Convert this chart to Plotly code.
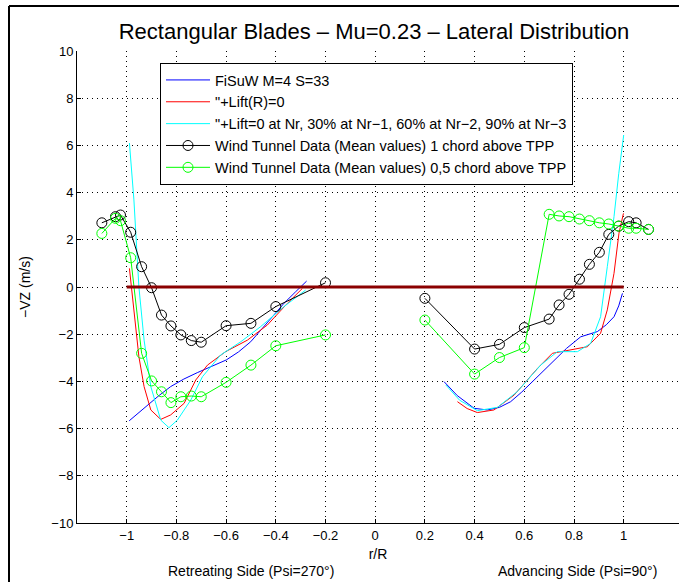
import plotly.graph_objects as go

# ---------------- data ----------------
fisuw_left_x = [-0.99, -0.95, -0.917, -0.87, -0.823, -0.77, -0.716, -0.65, -0.599, -0.55, -0.501, -0.454, -0.41, -0.367, -0.32, -0.276]
fisuw_left_y = [-5.67, -5.3, -5.0, -4.6, -4.22, -3.9, -3.63, -3.33, -3.09, -2.75, -2.32, -1.75, -1.2, -0.69, -0.2, 0.25]
fisuw_right_x = [0.277, 0.33, 0.398, 0.451, 0.5, 0.545, 0.59, 0.639, 0.68, 0.72, 0.77, 0.827, 0.894, 0.93, 0.961, 0.98, 0.995]
fisuw_right_y = [-4.01, -4.6, -5.14, -5.21, -5.1, -4.86, -4.45, -3.94, -3.5, -3.09, -2.6, -2.11, -1.89, -1.6, -1.26, -0.8, -0.27]

lift0_left_x = [-0.989, -0.971, -0.951, -0.93, -0.903, -0.863, -0.823, -0.769, -0.722, -0.675, -0.602, -0.514, -0.434, -0.353, -0.293]
lift0_left_y = [0.79, -0.97, -2.95, -4.22, -5.21, -5.61, -5.42, -4.93, -3.94, -3.31, -2.74, -2.25, -1.61, -0.69, -0.06]
lift0_right_x = [0.331, 0.37, 0.411, 0.478, 0.559, 0.653, 0.713, 0.787, 0.854, 0.907, 0.934, 0.961, 0.981, 0.999]
lift0_right_y = [-4.86, -5.15, -5.32, -5.21, -4.58, -3.45, -2.81, -2.67, -2.53, -1.96, -0.97, 0.58, 2.28, 3.12]

liftg_left_x = [-0.989, -0.971, -0.951, -0.93, -0.903, -0.863, -0.83, -0.796, -0.742, -0.695, -0.622, -0.541, -0.461, -0.367, -0.28]
liftg_left_y = [6.1, 3.69, 0.01, -2.25, -4.22, -5.64, -5.96, -5.64, -4.79, -3.8, -2.88, -2.32, -1.68, -0.83, -0.13]
liftg_right_x = [0.284, 0.34, 0.411, 0.492, 0.572, 0.666, 0.733, 0.814, 0.867, 0.907, 0.934, 0.961, 0.98, 1.0]
liftg_right_y = [-4.15, -4.8, -5.24, -5.1, -4.43, -3.31, -2.74, -2.74, -2.39, -1.26, 0.86, 2.98, 4.8, 6.44]

wt_left_x = [-1.1, -1.045, -1.025, -0.984, -0.94, -0.9, -0.86, -0.822, -0.782, -0.74, -0.7, -0.6, -0.5, -0.4, -0.2]
wt_right_x = [0.2, 0.4, 0.5, 0.6, 0.7, 0.74, 0.78, 0.822, 0.862, 0.902, 0.94, 0.98, 1.02, 1.05, 1.1]

wt1_left_y = [2.72, 2.98, 3.05, 2.32, 0.86, -0.03, -1.19, -1.65, -2.03, -2.27, -2.34, -1.64, -1.54, -0.83, 0.18]
wt1_right_y = [-0.48, -2.63, -2.43, -1.72, -1.36, -0.76, -0.31, 0.33, 0.96, 1.47, 2.23, 2.58, 2.77, 2.72, 2.44]

wt05_left_y = [2.27, 2.91, 2.81, 1.24, -2.81, -3.98, -4.44, -4.9, -4.65, -4.62, -4.65, -4.04, -3.31, -2.49, -2.03]
wt05_right_y = [-1.4, -3.69, -2.99, -2.57, 3.08, 3.01, 2.98, 2.88, 2.81, 2.72, 2.67, 2.58, 2.49, 2.49, 2.44]

zero_x = [-1, 1]
zero_y = [0, 0]

x_ticks = [-1, -0.8, -0.6, -0.4, -0.2, 0, 0.2, 0.4, 0.6, 0.8, 1]
y_ticks = [-10, -8, -6, -4, -2, 0, 2, 4, 6, 8, 10]

names = ["FiSuW M=4 S=33",
         "\"+Lift(R)=0",
         "\"+Lift=0 at Nr, 30% at Nr\u22121, 60% at Nr\u22122, 90% at Nr\u22123",
         "Wind Tunnel Data (Mean values) 1 chord above TPP",
         "Wind Tunnel Data (Mean values) 0,5 chord above TPP"]


def join(a, b):
    return list(a) + [None] + list(b)


FONT = "Liberation Sans, Arial, sans-serif"
fig = go.Figure()

fig.add_trace(go.Scatter(x=join(fisuw_left_x, fisuw_right_x), y=join(fisuw_left_y, fisuw_right_y),
                         mode="lines", line=dict(color="#0000ff", width=1), name=names[0]))
fig.add_trace(go.Scatter(x=join(lift0_left_x, lift0_right_x), y=join(lift0_left_y, lift0_right_y),
                         mode="lines", line=dict(color="#ff0000", width=1), name=names[1]))
fig.add_trace(go.Scatter(x=join(liftg_left_x, liftg_right_x), y=join(liftg_left_y, liftg_right_y),
                         mode="lines", line=dict(color="#00ffff", width=1), name=names[2]))
fig.add_trace(go.Scatter(x=join(wt_left_x, wt_right_x), y=join(wt1_left_y, wt1_right_y),
                         mode="lines+markers", line=dict(color="#000000", width=1),
                         marker=dict(symbol="circle-open", size=10, color="#000000", line=dict(width=1)),
                         name=names[3]))
fig.add_trace(go.Scatter(x=join(wt_left_x, wt_right_x), y=join(wt05_left_y, wt05_right_y),
                         mode="lines+markers", line=dict(color="#00ff00", width=1),
                         marker=dict(symbol="circle-open", size=10, color="#00ff00", line=dict(width=1)),
                         name=names[4]))
fig.add_trace(go.Scatter(x=zero_x, y=zero_y, mode="lines", line=dict(color="#8b0000", width=3),
                         showlegend=False, hoverinfo="skip"))

W, H = 679, 582
L, R, T, B = 77, 0, 51, 59
pw, ph = W - L - R, H - T - B


def px(xp):
    return (xp - L) / pw


def py(yp):
    return 1 - (yp - T) / ph


fig.update_layout(
    width=W, height=H,
    margin=dict(l=L, r=R, t=T, b=B),
    paper_bgcolor="white", plot_bgcolor="white",
    font=dict(family=FONT, size=13, color="black"),
    title=dict(text="Rectangular Blades \u2013 Mu=0.23 \u2013 Lateral Distribution",
               x=374 / W, xanchor="center", y=1 - 31 / H, yanchor="middle",
               font=dict(size=22, family=FONT)),
    showlegend=True,
    legend=dict(x=px(160), y=py(63), xanchor="left", yanchor="top",
                bgcolor="white", bordercolor="black", borderwidth=1,
                font=dict(size=14.5, family=FONT), tracegroupgap=0,
                itemwidth=44),
    xaxis=dict(range=[-1.2, -1.2 + pw / 248.5], tickvals=x_ticks,
               showgrid=True, gridcolor="black", griddash="1px,4px", gridwidth=1,
               showline=True, linecolor="black", linewidth=1, mirror=False,
               ticks="inside", ticklen=4, tickcolor="black", zeroline=False,
               title=dict(text="r/R", standoff=7, font=dict(size=14)),
               tickfont=dict(size=13)),
    yaxis=dict(range=[-10, 10], tickvals=y_ticks,
               showgrid=True, gridcolor="black", griddash="1px,4px", gridwidth=1,
               showline=True, linecolor="black", linewidth=1, mirror=False,
               ticks="inside", ticklen=4, tickcolor="black", zeroline=False,
               title=dict(text="\u2212VZ (m/s)", standoff=17, font=dict(size=14)),
               tickfont=dict(size=13)),
    annotations=[
        dict(text="Retreating Side (Psi=270\u00b0)", xref="paper", yref="paper",
             x=px(251), y=py(571), xanchor="center", yanchor="middle", showarrow=False,
             font=dict(size=14)),
        dict(text="Advancing Side (Psi=90\u00b0)", xref="paper", yref="paper",
             x=px(577), y=py(571), xanchor="center", yanchor="middle", showarrow=False,
             font=dict(size=14)),
    ],
    shapes=[
        dict(type="line", xref="paper", yref="paper", x0=px(9), x1=px(9), y0=py(6), y1=py(600),
             line=dict(color="black", width=2)),
        dict(type="line", xref="paper", yref="paper", x0=px(9), x1=px(700), y0=py(6), y1=py(6),
             line=dict(color="black", width=2)),
    ],
)

fig.write_html("out.html")
